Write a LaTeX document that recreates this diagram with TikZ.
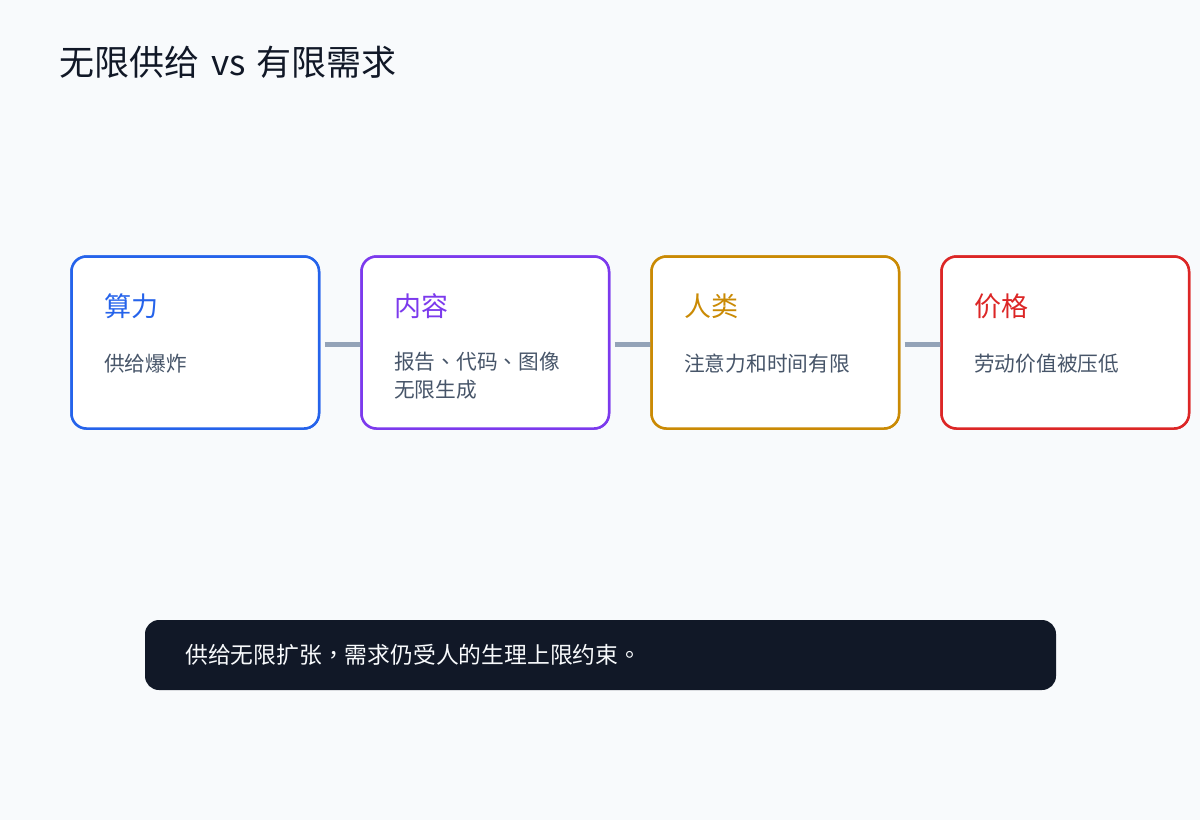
\documentclass[tikz,border=0pt]{standalone}
\usepackage{fontspec}
\setmainfont{Noto Sans CJK TC}[Language=Chinese Traditional]
\definecolor{bg}{HTML}{F8FAFC}
\definecolor{ink}{HTML}{111827}
\definecolor{body}{HTML}{475569}
\definecolor{conn}{HTML}{94A3B8}
\definecolor{cblue}{HTML}{2563EB}
\definecolor{cpurple}{HTML}{7C3AED}
\definecolor{camber}{HTML}{CA8A04}
\definecolor{cred}{HTML}{DC2626}
\tikzset{
  card/.style={draw=#1, line width=2.5pt, fill=white, rounded corners=15pt, minimum width=247.5pt, minimum height=172pt, inner sep=0pt, outer sep=0pt, anchor=north west},
  cardtitle/.style={text=#1, font=\fontsize{27}{32}\selectfont, anchor=west, inner sep=0pt},
  cardbody/.style={text=body, font=\fontsize{20.7}{28}\selectfont, anchor=west, inner sep=0pt, align=left},
  link/.style={draw=conn, line width=5pt},
}
\begin{document}
\begin{tikzpicture}[x=1pt,y=-1pt]
\fill[bg] (0,0) rectangle (1200,820);
\useasboundingbox (0,0) rectangle (1200,820);
\node[anchor=west, inner sep=0pt, text=ink, font=\fontsize{35}{40}\selectfont] (title) at (59,62) {无限供给\hspace{4pt} vs \hspace{3pt}有限需求};

\node[card=cblue] (c1) at (71.5,256.5) {};
\node[card=cpurple] (c2) at (361.5,256.5) {};
\node[card=camber] (c3) at (651.5,256.5) {};
\node[card=cred] (c4) at (941.5,256.5) {};

\draw[link] ([xshift=5.5pt,yshift=-1.5pt]c1.east) -- ([yshift=-1.5pt]c2.west);
\draw[link] ([xshift=5.5pt,yshift=-1.5pt]c2.east) -- ([yshift=-1.5pt]c3.west);
\draw[link] ([xshift=5.5pt,yshift=-1.5pt]c3.east) -- ([yshift=-1.5pt]c4.west);
% cards redrawn on top of the connectors
\node[card=cblue] at (71.5,256.5) {};
\node[card=cpurple] at (361.5,256.5) {};
\node[card=camber] at (651.5,256.5) {};
\node[card=cred] at (941.5,256.5) {};

\node[cardtitle=cblue] (t1) at (104,306) {算力};
\node[cardtitle=cpurple] (t2) at (394,306) {内容};
\node[cardtitle=camber] (t3) at (684,306) {人类};
\node[cardtitle=cred] (t4) at (974,306) {价格};

\node[cardbody] (b1) at (104,364) {供给爆炸};
\node[cardbody, anchor=north west] (b2) at (394,352) {报告、代码、图像\\无限生成};
\node[cardbody] (b3) at (684,364) {注意力和时间有限};
\node[cardbody] (b4) at (974,364) {劳动价值被压低};

\node[fill=ink, rounded corners=14pt, minimum width=911pt, minimum height=70pt, anchor=north west, inner sep=0pt, outer sep=0pt] (bar) at (145,620) {};
\node[anchor=west, inner sep=0pt, text=bg, font=\fontsize{22.8}{26}\selectfont] (note) at (185,655) {供给无限扩张，需求仍受人的生理上限约束。};
\end{tikzpicture}
\end{document}
